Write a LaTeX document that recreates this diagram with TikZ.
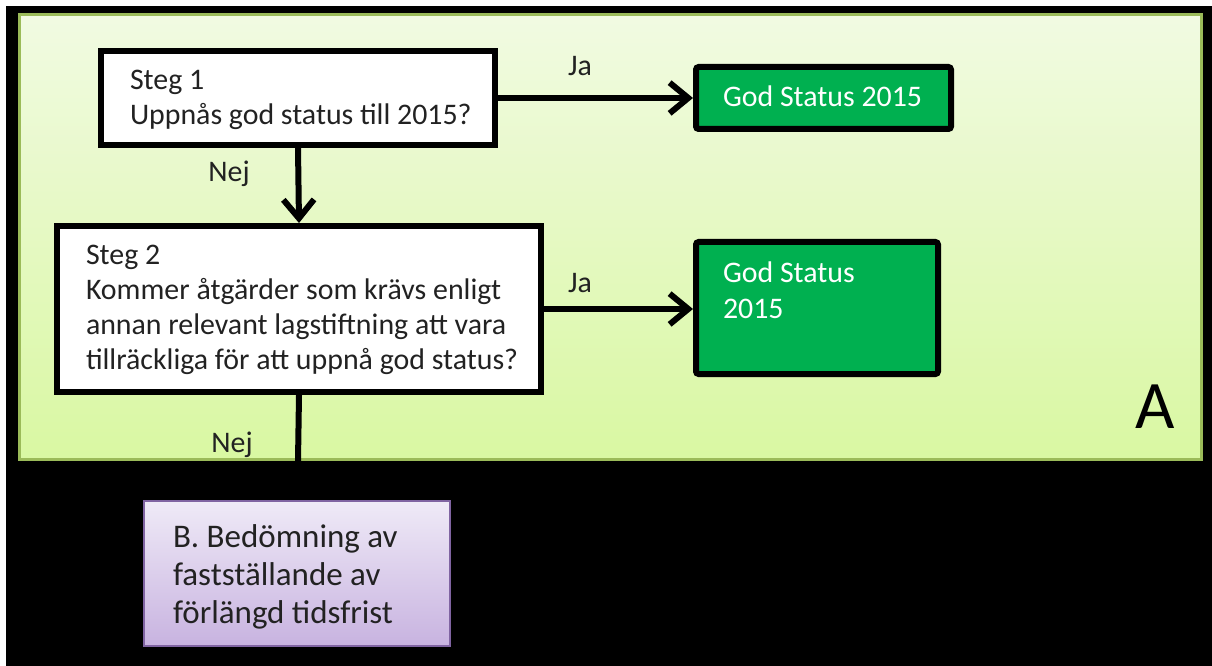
\documentclass[tikz,border=0pt]{standalone}
\usepackage{fontspec}
\setmainfont{Carlito}
\usepackage{tikz}
\usetikzlibrary{arrows.meta,positioning,calc}
\usepackage{xcolor}
\definecolor{godgreen}{HTML}{00B050}
\definecolor{panelrand}{HTML}{9BBB59}
\definecolor{panelljus}{HTML}{F1FAE2}
\definecolor{panelmork}{HTML}{D9F8A2}
\definecolor{lilarand}{HTML}{8064A2}
\definecolor{lilaljus}{HTML}{EFEAF7}
\definecolor{lilamork}{HTML}{C8B3E0}
\definecolor{texgra}{HTML}{222222}
\newcommand{\flodtext}{\fontsize{22.4pt}{26.25pt}\selectfont}
\newcommand{\lilatext}{\fontsize{24.75pt}{28.5pt}\selectfont}
\tikzset{
    stegbox/.style={
        draw=black,
        fill=white,
        line width=4.5pt,
        align=flush left,
        inner xsep=21.75pt,
        inner ysep=0pt,
        text=texgra,
        font=\flodtext,
        anchor=north west
    },
    statusbox/.style={
        draw=black,
        fill=godgreen,
        line width=4.5pt,
        rounded corners=2pt,
        align=flush left,
        inner xsep=20.25pt,
        inner ysep=0pt,
        text=white,
        font=\flodtext,
        anchor=north west
    },
    bedombox/.style={
        draw=lilarand,
        line width=1.5pt,
        top color=lilaljus,
        bottom color=lilamork,
        align=flush left,
        inner xsep=21.75pt,
        inner ysep=0pt,
        text=texgra,
        font=\lilatext,
        anchor=north west
    },
    flode/.style={
        -{Straight Barb[length=14pt,width=23pt]},
        line width=4.5pt,
        line cap=round
    },
    svar/.style={
        text=texgra,
        font=\flodtext,
        anchor=base
    }
}

\begin{document}
\begin{tikzpicture}[x=0.75pt,y=-0.75pt]

    % Bakgrund
    \useasboundingbox (0,0) rectangle (1212,666);
    \fill[white] (0,0) rectangle (1212,666);
    \fill[black] (6,6) rectangle (1212,666);

    % Panel A
    \draw[
        panelrand,
        line width=2.25pt,
        top color=panelljus,
        bottom color=panelmork
    ]
        (19.5,14.5) rectangle (1201.5,459.5);

    \node[
        text=black,
        font=\fontsize{51pt}{51pt}\selectfont,
        anchor=base
    ] (etikettA)
        at (1155,428)
        {A};

    % Steg 1
    \node[
        stegbox,
        text width=252pt,
        text height=29.25pt,
        text depth=41.25pt
    ] (steg1)
        at (98,48)
        {Steg 1\\\mbox{Uppnås god status till 2015?}};

    % Steg 2
    \node[
        stegbox,
        text width=319.5pt,
        text height=29.25pt,
        text depth=95.25pt
    ] (steg2)
        at (54,223)
        {Steg 2\\\mbox{Kommer åtgärder som krävs enligt}\\\mbox{annan relevant lagstiftning att vara}\\\mbox{tillräckliga för att uppnå god status?}};

    % God status
    \node[
        statusbox,
        text width=150.75pt,
        text height=30pt,
        text depth=16.5pt
    ] (status1)
        at (693,64)
        {\mbox{God Status 2015}};

    \node[
        statusbox,
        text width=141pt,
        text height=30.75pt,
        text depth=68.25pt
    ] (status2)
        at (693,239)
        {God Status\\2015};

    % B
    \node[
        bedombox,
        text width=186pt,
        text height=34.5pt,
        text depth=74.25pt
    ] (bedomning)
        at (143,500)
        {B. Bedömning av\\fastställande av\\\mbox{förlängd tidsfrist}};

    % Pilar
    \draw[flode]
        (steg1.east)
        -- (steg1.east -| status1.west);

    \draw[flode]
        (steg2.east)
        -- (steg2.east -| status2.west);

    \draw[flode]
        (steg1.south)
        -- (steg2.north);

    \coordinate (nejslut) at (298,461);
    \draw[line width=4.5pt]
        (steg2.south)
        -- (nejslut);

    % Ja / Nej
    \node[svar] (ja1) at (580,76) {Ja};
    \node[svar] (ja2) at (580,293) {Ja};
    \node[svar] (nej1) at (229,182) {Nej};
    \node[svar] (nej2) at (232,452) {Nej};

\end{tikzpicture}
\end{document}
